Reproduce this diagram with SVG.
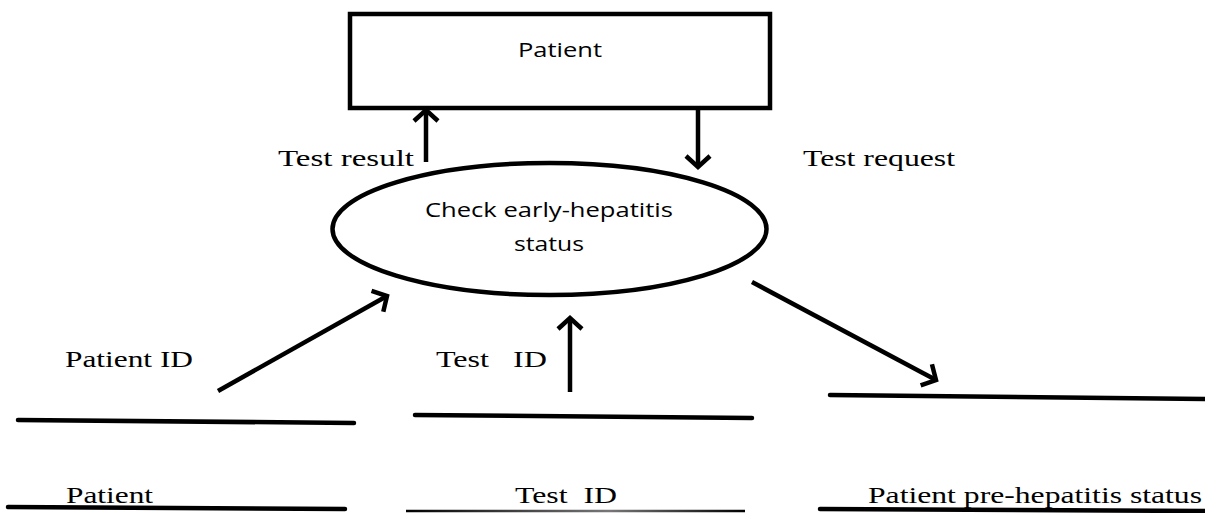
<svg xmlns="http://www.w3.org/2000/svg" width="1205" height="513" viewBox="0 0 1205 513">
<style>
.ln{stroke:#000;stroke-width:4.5;stroke-linecap:round;fill:none}
.cn{stroke:#000;stroke-width:4.5;fill:none}
.serif{font-family:"Liberation Serif","Times New Roman",serif;font-size:24px;fill:#000}
.sans{font-family:"Open Sans","Noto Sans",sans-serif;font-size:20px;fill:#000}
</style>
<defs>
<marker id="ah" markerUnits="userSpaceOnUse" viewBox="-3 -3 18 30" markerWidth="18" markerHeight="30" refX="11" refY="12" orient="auto">
<path d="M0,0 L11,12 L0,24" fill="none" stroke="#000" stroke-width="4.5" stroke-linejoin="miter"/>
</marker>
<linearGradient id="fade" x1="405" y1="0" x2="745" y2="0" gradientUnits="userSpaceOnUse">
<stop offset="0" stop-color="#000"/>
<stop offset="0.6" stop-color="#777"/>
<stop offset="1" stop-color="#000"/>
</linearGradient>
</defs>
<rect width="1205" height="513" fill="#fff"/>
<g id="patient-box">
<rect x="350" y="14" width="420" height="94" fill="#fff" stroke="#000" stroke-width="4.5"/>
<text class="sans" x="518" y="57" textLength="84" lengthAdjust="spacingAndGlyphs">Patient</text>
</g>
<g id="process">
<ellipse cx="549.5" cy="229" rx="217" ry="66" fill="#fff" stroke="#000" stroke-width="4.5"/>
<text class="sans" x="425" y="217" textLength="248" lengthAdjust="spacingAndGlyphs">Check early-hepatitis</text>
<text class="sans" x="514" y="251" textLength="70" lengthAdjust="spacingAndGlyphs">status</text>
</g>
<g id="store-patient">
<line class="ln" x1="18" y1="420" x2="354" y2="423"/>
<line class="ln" x1="8" y1="507" x2="345" y2="509"/>
<text class="serif" x="66" y="503" textLength="87" lengthAdjust="spacingAndGlyphs">Patient</text>
</g>
<g id="store-test">
<line class="ln" x1="415" y1="415" x2="752" y2="418"/>
<line x1="406" y1="511" x2="745" y2="511" stroke="url(#fade)" stroke-width="2.5"/>
<text class="serif" x="515" y="503" textLength="102" lengthAdjust="spacingAndGlyphs" xml:space="preserve">Test  ID</text>
</g>
<g id="store-status">
<line class="ln" x1="830" y1="395" x2="1205" y2="399"/>
<line class="ln" x1="820" y1="509" x2="1205" y2="511"/>
<text class="serif" x="868" y="503" textLength="334" lengthAdjust="spacingAndGlyphs">Patient pre-hepatitis status</text>
</g>
<g id="connectors">
<line class="cn" x1="426" y1="162" x2="426" y2="110" marker-end="url(#ah)"/>
<line class="cn" x1="698" y1="108" x2="698" y2="167" marker-end="url(#ah)"/>
<line class="cn" x1="218" y1="391" x2="387" y2="296" marker-end="url(#ah)"/>
<line class="cn" x1="570" y1="392" x2="570" y2="318" marker-end="url(#ah)"/>
<line class="cn" x1="752" y1="282" x2="936" y2="380" marker-end="url(#ah)"/>
<text class="serif" x="278" y="166" textLength="136" lengthAdjust="spacingAndGlyphs">Test result</text>
<text class="serif" x="803" y="166" textLength="152" lengthAdjust="spacingAndGlyphs">Test request</text>
<text class="serif" x="65" y="367" textLength="128" lengthAdjust="spacingAndGlyphs">Patient ID</text>
<text class="serif" x="436" y="367" textLength="111" lengthAdjust="spacingAndGlyphs" xml:space="preserve">Test   ID</text>
</g>
</svg>
